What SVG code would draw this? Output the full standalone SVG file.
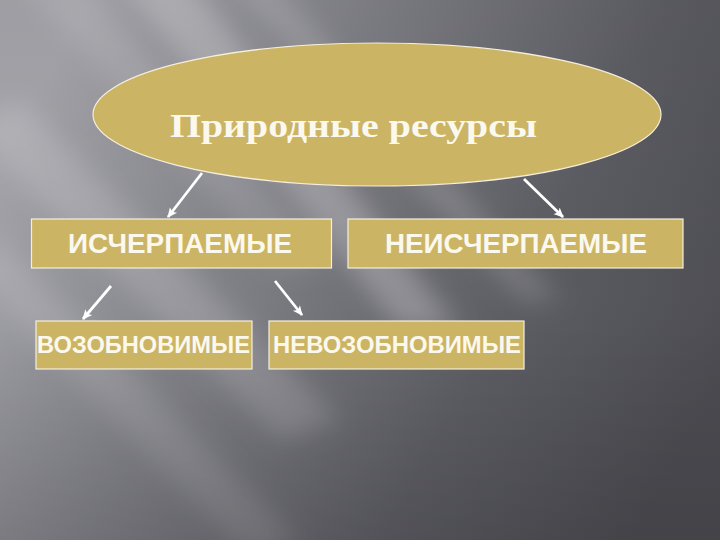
<svg xmlns="http://www.w3.org/2000/svg" width="720" height="540" viewBox="0 0 720 540">
  <style>
    .node { fill: #cbb464; stroke: #f4eedc; stroke-width: 1.2; }
    .lbl { font-family: "Liberation Sans", Arial, sans-serif; font-weight: bold; fill: #fbf8ee; }
    .title { font-family: "Liberation Serif", "Times New Roman", serif; font-weight: bold; fill: #fbf8ee; }
    .conn { stroke: #ffffff; stroke-width: 2.8; fill: none; marker-end: url(#arr); }
  </style>
  <defs>
    <linearGradient id="bg" x1="0" y1="0.3" x2="1" y2="0.7">
      <stop offset="0" stop-color="#a6a6ac"/>
      <stop offset="0.35" stop-color="#808087"/>
      <stop offset="0.7" stop-color="#5d5d64"/>
      <stop offset="1" stop-color="#4c4c52"/>
    </linearGradient>
    <linearGradient id="vshade" x1="0" y1="0" x2="0" y2="1">
      <stop offset="0" stop-color="#000" stop-opacity="0.05"/>
      <stop offset="0.6" stop-color="#000" stop-opacity="0"/>
      <stop offset="1" stop-color="#000" stop-opacity="0.12"/>
    </linearGradient>
    <filter id="blur" x="-50%" y="-50%" width="200%" height="200%">
      <feGaussianBlur stdDeviation="12"/>
    </filter>
    <marker id="arr" markerWidth="11" markerHeight="11" refX="9" refY="5.5" orient="auto" markerUnits="userSpaceOnUse">
      <path d="M0,1 L10,5.5 L0,10 L2.5,5.5 Z" fill="#ffffff"/>
    </marker>
  </defs>

  <g id="background">
    <rect x="0" y="0" width="720" height="540" fill="url(#bg)"/>
    <g filter="url(#blur)" fill="#ffffff">
      <polygon points="120,-20 190,-20 460,330 400,330" opacity="0.25"/>
      <polygon points="230,-20 270,-20 560,300 520,300" opacity="0.16"/>
      <polygon points="-40,120 20,100 340,420 280,440" opacity="0.16"/>
      <polygon points="-40,260 0,240 300,540 250,560" opacity="0.12"/>
      <polygon points="20,-20 80,-20 330,260 280,270" opacity="0.12"/>
    </g>
    <rect x="0" y="0" width="720" height="540" fill="url(#vshade)"/>
  </g>

  <g id="connectors">
    <line class="conn" x1="202" y1="173" x2="168" y2="217"/>
    <line class="conn" x1="524" y1="179" x2="563" y2="217"/>
    <line class="conn" x1="111" y1="286" x2="83" y2="319"/>
    <line class="conn" x1="275" y1="281" x2="302" y2="315"/>
  </g>

  <g id="node-root">
    <ellipse class="node" cx="377" cy="114.5" rx="284" ry="71.5" fill="#cdb866"/>
    <text class="title" x="170" y="137" font-size="34" textLength="367" lengthAdjust="spacingAndGlyphs">Природные ресурсы</text>
  </g>

  <g id="node-ischerpaemye">
    <rect class="node" x="31.5" y="219" width="300" height="49"/>
    <text class="lbl" x="68" y="253" font-size="27" textLength="224" lengthAdjust="spacingAndGlyphs">ИСЧЕРПАЕМЫЕ</text>
  </g>

  <g id="node-neischerpaemye">
    <rect class="node" x="348" y="219" width="335" height="49"/>
    <text class="lbl" x="385" y="253" font-size="27" textLength="262" lengthAdjust="spacingAndGlyphs">НЕИСЧЕРПАЕМЫЕ</text>
  </g>

  <g id="node-vozobnovimye">
    <rect class="node" x="36" y="321" width="216" height="48"/>
    <text class="lbl" x="37" y="353" font-size="23" textLength="213" lengthAdjust="spacingAndGlyphs">ВОЗОБНОВИМЫЕ</text>
  </g>

  <g id="node-nevozobnovimye">
    <rect class="node" x="269" y="321" width="255" height="48"/>
    <text class="lbl" x="273" y="353" font-size="23" textLength="248" lengthAdjust="spacingAndGlyphs">НЕВОЗОБНОВИМЫЕ</text>
  </g>
</svg>
